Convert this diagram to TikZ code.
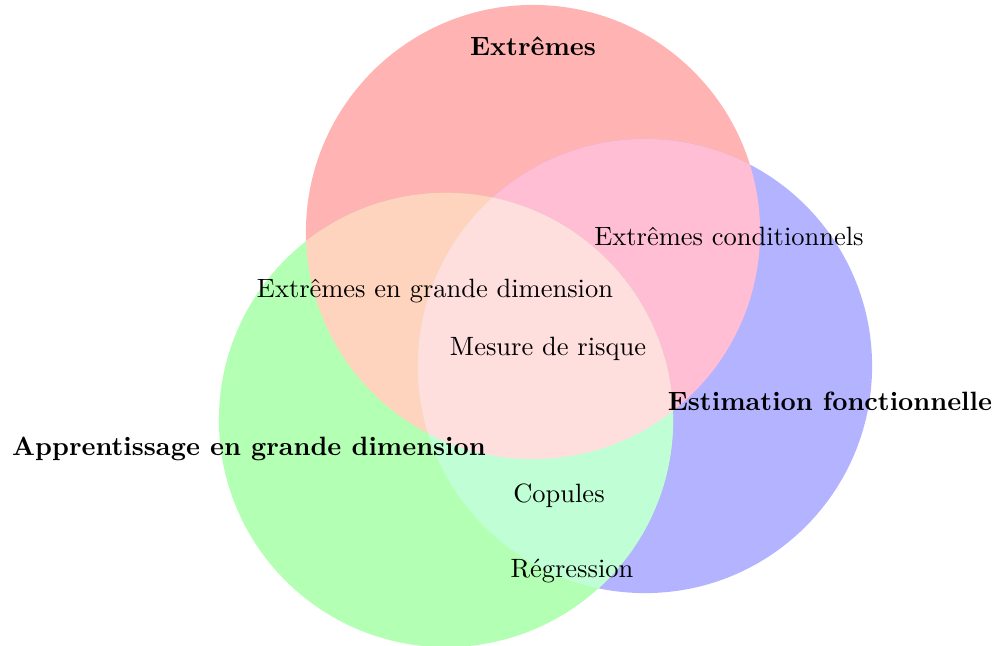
\documentclass[tikz,border=0pt]{standalone}
\begin{document}
\begin{tikzpicture}[x=0.01328cm,y=-0.01328cm,
  lbl/.style={inner sep=0pt,font=\normalsize},
  title/.style={inner sep=0pt,font=\bfseries}]
\definecolor{cRed}{RGB}{255,179,179}
\definecolor{cBlue}{RGB}{179,179,255}
\definecolor{cGreen}{RGB}{179,255,179}
\definecolor{cRB}{RGB}{255,190,212}
\definecolor{cRG}{RGB}{255,212,190}
\definecolor{cGB}{RGB}{192,255,214}
\definecolor{cAll}{RGB}{255,222,222}
\def\R{3.01456cm}
\useasboundingbox (0,0) rectangle (999,645);
\coordinate (cr) at (533,232);
\coordinate (cb) at (645,366);
\coordinate (cg) at (446,420);
\fill[cRed] (cr) circle[radius=\R];
\fill[cBlue] (cb) circle[radius=\R];
\fill[cGreen] (cg) circle[radius=\R];
\begin{scope}
  \clip (cr) circle[radius=\R];
  \fill[cRB] (cb) circle[radius=\R];
  \fill[cRG] (cg) circle[radius=\R];
\end{scope}
\begin{scope}
  \clip (cg) circle[radius=\R];
  \fill[cGB] (cb) circle[radius=\R];
\end{scope}
\begin{scope}
  \clip (cr) circle[radius=\R];
  \clip (cg) circle[radius=\R];
  \fill[cAll] (cb) circle[radius=\R];
\end{scope}
\node[title] (tE) at (533,46) {Extrêmes};
\node[title] (tF) at (830,401) {Estimation fonctionnelle};
\node[title] (tA) at (249,449) {Apprentissage en grande dimension};
\node[lbl] (lEC) at (729,236) {Extrêmes conditionnels};
\node[lbl] (lEG) at (435,291) {Extrêmes en grande dimension};
\node[lbl] (lMR) at (548,349) {Mesure de risque};
\node[lbl] (lCo) at (559,496) {Copules};
\node[lbl] (lRe) at (572,571) {Régression};
\end{tikzpicture}
\end{document}
